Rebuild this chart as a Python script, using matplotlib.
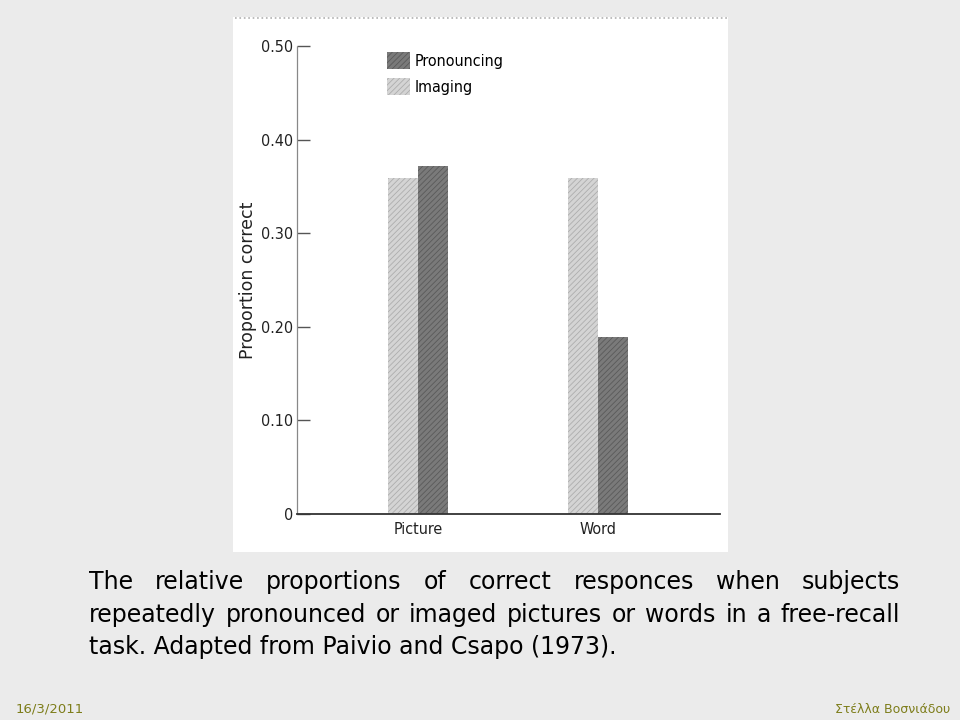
import matplotlib.pyplot as plt
from matplotlib.patches import Rectangle, Patch
from matplotlib.lines import Line2D
import numpy as np

plt.rcParams['hatch.linewidth'] = 0.6

categories = ["Picture", "Word"]
imaging = [0.359, 0.359]
pronouncing = [0.372, 0.189]
yticks = [0, 0.10, 0.20, 0.30, 0.40, 0.50]
ytick_labels = ["0", "0.10", "0.20", "0.30", "0.40", "0.50"]

caption_lines = [
    "The relative proportions of correct responces when subjects",
    "repeatedly pronounced or imaged pictures or words in a free-recall",
    "task. Adapted from Paivio and Csapo (1973).",
]
footer_date = "16/3/2011"
footer_author = "Στέλλα Βοσνιάδου"

W, H = 960, 720
chart_font = dict(family=['Liberation Sans Narrow', 'DejaVu Sans'], stretch='condensed')
fs = 11.5

fig = plt.figure(figsize=(W / 100, H / 100), dpi=100, facecolor='#ebebeb')

# white scanned-figure panel, kept behind the axes
fig.patches.append(Rectangle((233 / W, 1 - 552 / H), (728 - 233) / W, (552 - 17) / H,
                             transform=fig.transFigure, facecolor='white',
                             edgecolor='none', zorder=-2))
fig.lines.append(Line2D([235 / W, 727 / W], [1 - 18 / H, 1 - 18 / H],
                        transform=fig.transFigure, color='#b0b0b0', lw=1.2, ls=':',
                        zorder=-1))

ax = fig.add_axes([297 / W, 1 - 514 / H, (720 - 297) / W, (514 - 46) / H])
ax.set_facecolor('none')

x = np.arange(len(categories))
w = 0.167
ax.bar(x - w / 2, imaging, w, facecolor='#d4d4d4', edgecolor='#adadad',
       hatch='//////', linewidth=0, label='Imaging')
ax.bar(x + w / 2, pronouncing, w, facecolor='#7a7a7a', edgecolor='#5a5a5a',
       hatch='//////', linewidth=0, label='Pronouncing')

ax.set_xlim(-0.672, 1.678)
ax.set_ylim(0, 0.50)
ax.set_yticks(yticks)
ax.set_yticklabels(ytick_labels, **chart_font, fontsize=fs, color='#222222')
ax.set_xticks(x)
ax.set_xticklabels(categories, **chart_font, fontsize=fs, color='#222222')
ax.tick_params(axis='y', direction='in', length=9, width=1, color='#555555', pad=3)
ax.tick_params(axis='x', length=0, pad=6)

for s in ['top', 'right']:
    ax.spines[s].set_visible(False)
ax.spines['left'].set_color('#888888')
ax.spines['left'].set_linewidth(0.9)
ax.spines['left'].set_linestyle((0, (4, 1)))
ax.spines['bottom'].set_color('#333333')
ax.spines['bottom'].set_linewidth(1.3)

fig.text(248 / W, 1 - 280 / H, "Proportion correct", rotation=90, ha='center',
         va='center', fontsize=12.5, color='#222222', family=['DejaVu Sans'])

handles = [Patch(facecolor='#7a7a7a', edgecolor='#5a5a5a', hatch='//////', linewidth=0),
           Patch(facecolor='#d4d4d4', edgecolor='#adadad', hatch='//////', linewidth=0)]
ax.legend(handles, ["Pronouncing", "Imaging"], loc='upper left',
          bbox_to_anchor=(387 / W, 1 - 52 / H), bbox_transform=fig.transFigure,
          frameon=False, borderpad=0, borderaxespad=0, handlelength=1.45,
          handleheight=1.25, labelspacing=0.6, handletextpad=0.3,
          prop=dict(**chart_font, size=fs))

# justified caption below the figure
renderer = fig.canvas.get_renderer()
left, right = 89, 900
baselines = [589, 622, 654]
cap_kw = dict(fontsize=17, color='black', family='DejaVu Sans', va='baseline', ha='left')
for i, line in enumerate(caption_lines):
    words = line.split()
    if i < len(caption_lines) - 1:
        widths = []
        for wd in words:
            t = fig.text(0, 0, wd, **cap_kw)
            widths.append(t.get_window_extent(renderer).width)
            t.remove()
        gap = (right - left - sum(widths)) / (len(words) - 1)
        xpos = left
        for wd, wpx in zip(words, widths):
            fig.text(xpos / W, 1 - baselines[i] / H, wd, **cap_kw)
            xpos += wpx + gap
    else:
        fig.text(left / W, 1 - baselines[i] / H, line, **cap_kw)

fig.text(16 / W, 1 - 713 / H, footer_date, fontsize=9.5, color='#7d7d1a',
         family='DejaVu Sans', va='baseline', ha='left')
fig.text(950 / W, 1 - 713 / H, footer_author, fontsize=9, color='#7d7d1a',
         family='DejaVu Sans', va='baseline', ha='right')

fig.savefig('out.png', dpi=100, facecolor=fig.get_facecolor())
